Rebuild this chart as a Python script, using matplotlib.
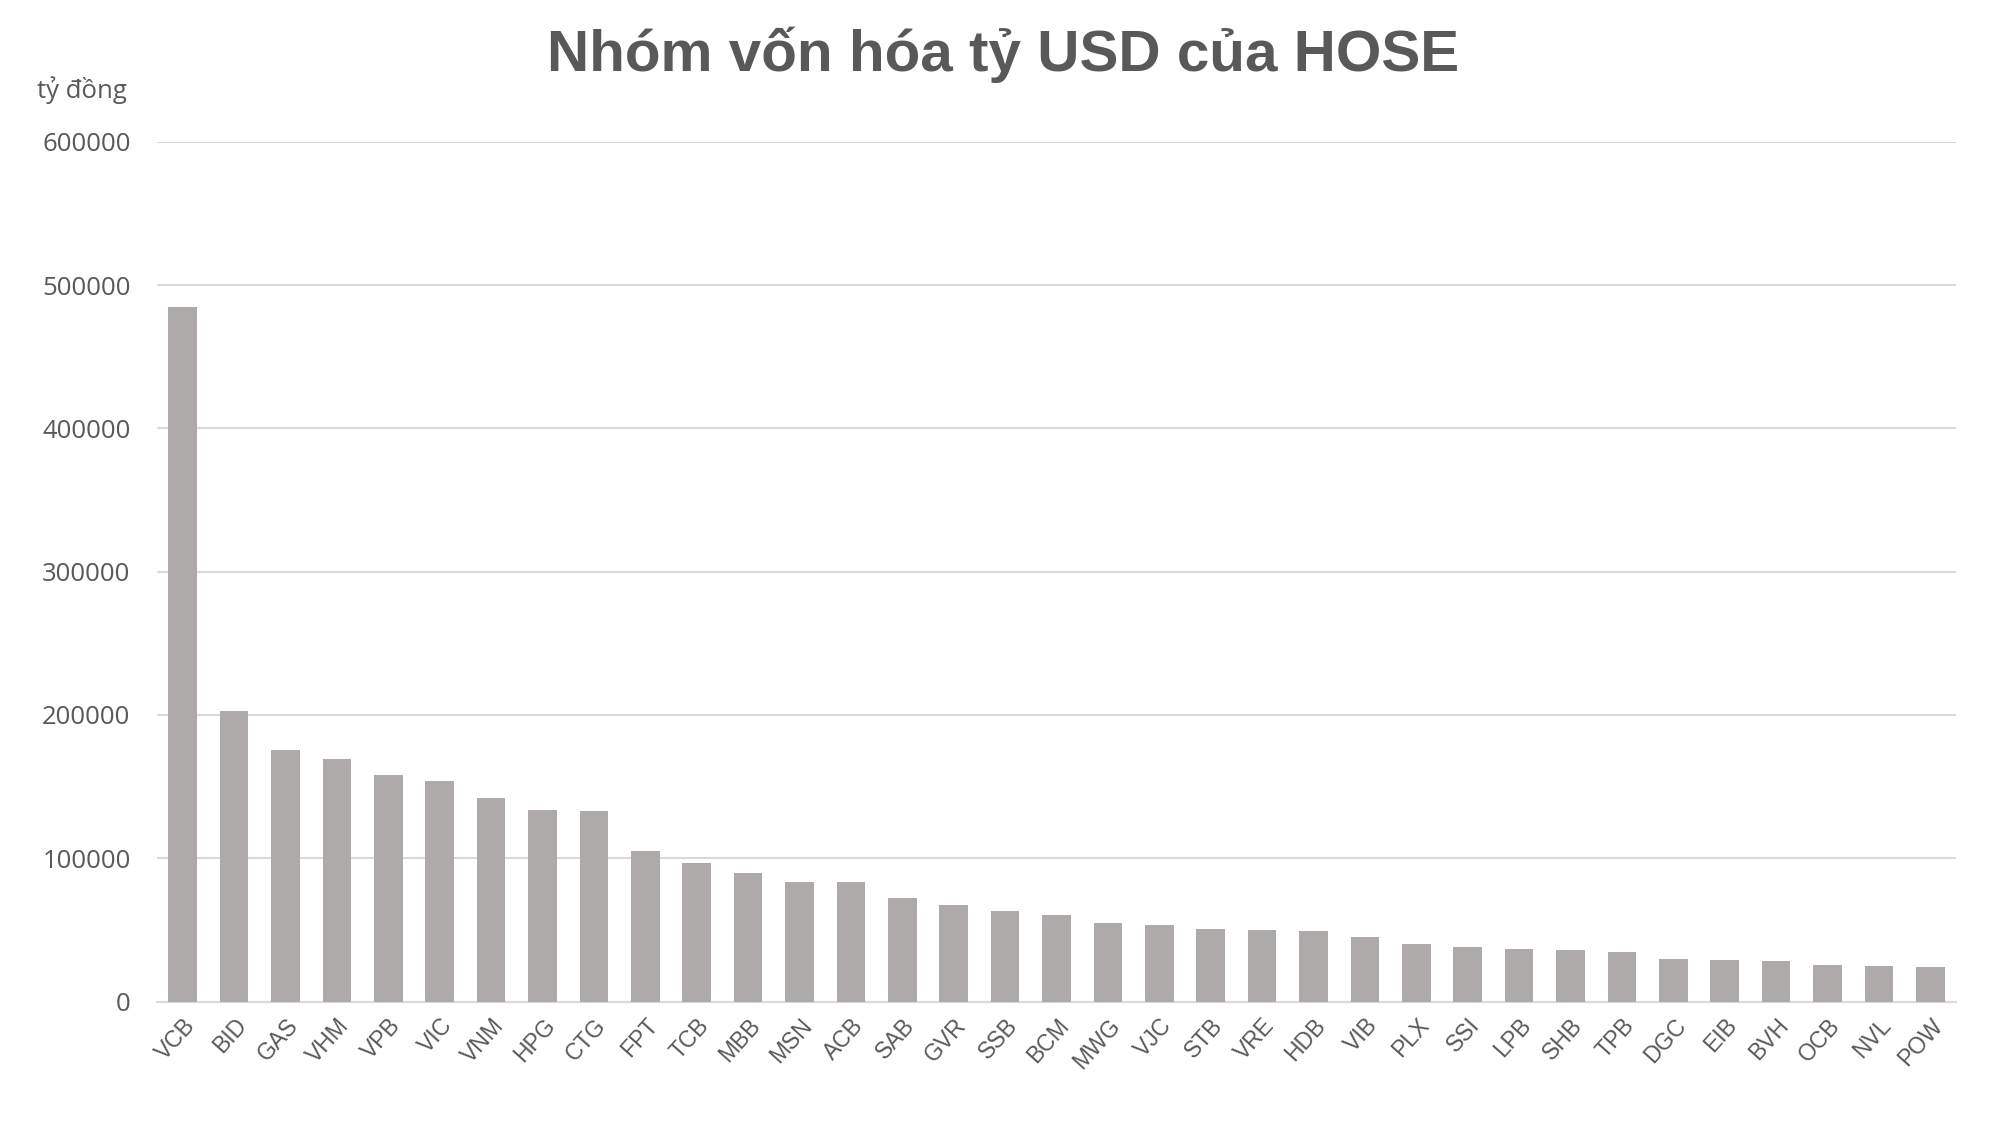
import matplotlib
matplotlib.use("Agg")
import matplotlib.pyplot as plt
from matplotlib.transforms import ScaledTranslation

categories = ["VCB", "BID", "GAS", "VHM", "VPB", "VIC", "VNM", "HPG", "CTG", "FPT",
              "TCB", "MBB", "MSN", "ACB", "SAB", "GVR", "SSB", "BCM", "MWG", "VJC",
              "STB", "VRE", "HDB", "VIB", "PLX", "SSI", "LPB", "SHB", "TPB", "DGC",
              "EIB", "BVH", "OCB", "NVL", "POW"]
values = [484600, 202600, 175400, 169100, 158000, 153800, 141900, 133600, 132900, 105300,
          96900, 89400, 83100, 83100, 72500, 67600, 63400, 60600, 54900, 53500,
          50700, 50000, 49300, 45100, 40100, 38000, 36600, 35900, 34500, 29600,
          28900, 28200, 25400, 24600, 23900]
yticks = [0, 100000, 200000, 300000, 400000, 500000, 600000]
title = "Nhóm vốn hóa tỷ USD của HOSE"
unit_label = "tỷ đồng"

text_color = "#595959"
bar_color = "#ADAAA9"
grid_color = "#D9D9D9"

fig = plt.figure(figsize=(20.01, 11.28), dpi=100)
ax = fig.add_axes([157 / 2001, 1 - 1001.5 / 1128, (1956 - 157) / 2001, (1001.5 - 141.7) / 1128])

x = list(range(len(categories)))
ax.bar(x, values, width=0.555, color=bar_color, zorder=3)

ax.set_xlim(-0.5, len(categories) - 0.5)
ax.set_ylim(0, 600000)
ax.set_yticks(yticks)
ax.set_yticklabels([str(v) for v in yticks], fontsize=18.5, color=text_color, family="Open Sans")
ax.set_xticks(x)
ax.set_xticklabels(categories, rotation=48, ha="right", va="top", rotation_mode="anchor",
                   fontsize=16.5, color=text_color, family="Liberation Sans")
offset = ScaledTranslation(4 / 100, 0, fig.dpi_scale_trans)
for lbl in ax.get_xticklabels():
    lbl.set_transform(lbl.get_transform() + offset)
ax.tick_params(axis="x", length=0, pad=9)
ax.tick_params(axis="y", length=0, pad=19)
ax.grid(axis="y", color=grid_color, linewidth=1.5, zorder=0)
for s in ["top", "right", "left"]:
    ax.spines[s].set_visible(False)
ax.spines["bottom"].set_color(grid_color)
ax.spines["bottom"].set_linewidth(1.5)

fig.text(1003 / 2001, 1 - 55 / 1128, title, ha="center", va="center", fontsize=42,
         fontweight="bold", color=text_color, family="Liberation Sans")
fig.text(37 / 2001, 1 - 90 / 1128, unit_label, ha="left", va="center", fontsize=18.5,
         color=text_color, family="Open Sans")

fig.savefig("out.png", dpi=100)
